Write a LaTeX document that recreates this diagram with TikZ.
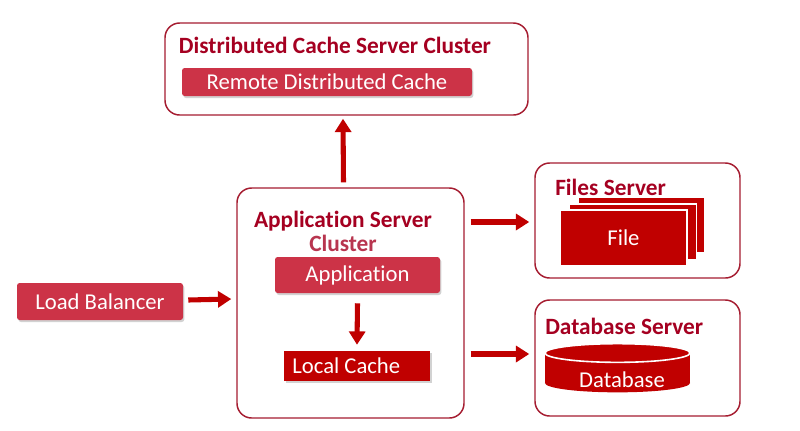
\documentclass[tikz,border=0pt]{standalone}
\usepackage{fontspec}
\setmainfont{Carlito}[Ligatures=NoCommon]
\usetikzlibrary{arrows.meta,shadows,calc}
\definecolor{bord}{HTML}{A51C30}
\definecolor{ttl}{HTML}{A50021}
\definecolor{pinkf}{HTML}{CC3347}
\definecolor{redf}{HTML}{C00000}
\definecolor{clus}{HTML}{B8354F}
\begin{document}
\begin{tikzpicture}[x=0.75pt,y=-0.75pt,
  cluster/.style={draw=bord,line width=1.1pt,rounded corners=11pt,fill=white,inner sep=0pt},
  title/.style={font=\fontsize{17.5}{19}\selectfont\bfseries,text=ttl,inner sep=0pt},
  pinkbox/.style={fill=pinkf,text=white,rounded corners=2pt,inner sep=0pt,
     font=\fontsize{17}{19}\selectfont,
     general shadow={fill=gray!35,shadow xshift=1pt,shadow yshift=-1.5pt}},
  redbox/.style={fill=redf,text=white,inner sep=0pt,font=\fontsize{17}{19}\selectfont,
     general shadow={fill=gray!35,shadow xshift=1.5pt,shadow yshift=-1.5pt}},
  filebox/.style={fill=redf,draw=white,line width=1.2pt,minimum width=127*0.75pt,minimum height=56*0.75pt},
  bigarrow/.style={draw=redf,line width=3.8pt,-{Triangle[length=10pt,width=12pt]}}
]
\useasboundingbox (0,0) rectangle (800,430);
% clusters
\node[cluster,minimum width=363*0.75pt,minimum height=92*0.75pt] (top) at (346.5,69) {};
\node[cluster,minimum width=227*0.75pt,minimum height=230*0.75pt] (appc) at (350.5,303) {};
\node[cluster,minimum width=205*0.75pt,minimum height=115*0.75pt] (files) at (637.5,220.5) {};
\node[cluster,minimum width=205*0.75pt,minimum height=116*0.75pt] (dbs) at (637.5,358) {};
% titles
\node[title] (toptitle) at (335,45) {Distributed Cache Server Cluster};
\node[title] (apptitle) at (343,221) {Application Server};
\node[title,text=clus] (apptitle2) at (343,243) {Cluster};
\node[title,anchor=west] (filestitle) at (555,187) {Files Server};
\node[title,anchor=west] (dbtitle) at (545,326) {Database Server};
% boxes
\node[pinkbox,minimum width=290*0.75pt,minimum height=28*0.75pt] (remote) at (327,82) {Remote Distributed Cache};
\node[pinkbox,minimum width=165*0.75pt,minimum height=36*0.75pt] (appl) at (357.5,275) {Application};
\node[redbox,minimum width=146*0.75pt,minimum height=30*0.75pt] (local) at (357,366) {\hspace*{-16pt}Local Cache};
\node[pinkbox,minimum width=166*0.75pt,minimum height=37*0.75pt] (lb) at (100,301.5) {Load Balancer};
% file stack
\node[filebox] (f3) at (641.5,225) {};
\node[filebox] (f2) at (633,232) {};
\node[filebox,text=white,font=\fontsize{17}{19}\selectfont] (f1) at (623.5,238) {File};
% database cylinder
\fill[redf] (545,353) rectangle (690,383);
\fill[redf] (617.5,383) ellipse [x radius=54.4pt,y radius=7pt];
\fill[redf,draw=white,line width=1.2pt] (617.5,353) ellipse [x radius=54.4pt,y radius=7pt];
\node[text=white,font=\fontsize{17}{19}\selectfont] (db) at (622,380) {Database};
% arrows
\draw[bigarrow] ($(appc.north)+(-7,-5)$) -- ($(top.south)+(-3.5,3)$);
\draw[bigarrow] ($(appl.south)+(0,10)$) -- ($(local.north)+(0,-6)$);
\draw[bigarrow] ($(lb.east)+(5,-1.5)$) -- ($(appc.west)+(-5,-4)$);
\draw[bigarrow] ($(appc.east)+(6,-81)$) -- ($(files.west)+(-5,1.5)$);
\draw[bigarrow] ($(appc.east)+(6,51)$) -- ($(dbs.west)+(-5,-4)$);
\end{tikzpicture}
\end{document}
